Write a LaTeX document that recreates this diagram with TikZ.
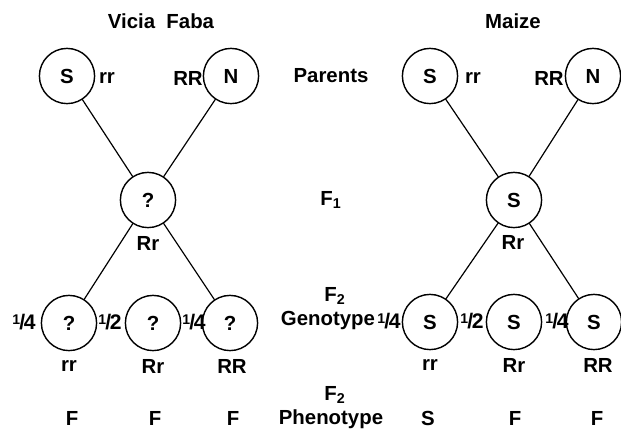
\documentclass[tikz,border=0pt]{standalone}
\usepackage{fontspec}
\setmainfont{Liberation Sans}

% fraction as printed: small raised 1, slash, full-size denominator
\newcommand{\gfrac}[1]{\raisebox{0.45ex}{\fontsize{10}{10}\selectfont 1}\kern-0.04em/\kern-0.06em#1}

\begin{document}
\begin{tikzpicture}[x=0.025cm,y=-0.025cm,line cap=round,
	plant/.style={draw,circle,line width=1pt,minimum size=1.38cm,inner sep=0pt,
		font=\fontsize{14.5}{16}\selectfont\bfseries},
	lbl/.style={font=\fontsize{14.5}{16}\selectfont\bfseries},
	frac/.style={font=\fontsize{15}{16}\selectfont\bfseries,inner sep=0pt},
	cross/.style={line width=0.85pt}]
	
	\useasboundingbox (0,0) rectangle (621,430);
	
	% ---- titles ----
	\node[lbl] (vftitle) at (161,21) {Vicia\ \ Faba};
	\node[lbl] (mztitle) at (513,21) {Maize};
	
	% ---- generation labels (middle column) ----
	\node[lbl] (parents) at (331,76) {Parents};
	\node[lbl] (fone) at (331,200) {F\textsubscript{1}};
	\node[lbl] (ftwog) at (335,296) {F\textsubscript{2}};
	\node[lbl] (genotype) at (328,320) {Genotype};
	\node[lbl] (ftwop) at (335,395) {F\textsubscript{2}};
	\node[lbl] (phenotype) at (331,419) {Phenotype};
	
	% ---- Vicia faba: parents ----
	\node[plant] (vS) at (67,76) {S};
	\node[lbl] (vSg) at (107,78) {rr};
	\node[plant] (vN) at (231,76) {N};
	\node[lbl] (vNg) at (188,78) {RR};
	
	% ---- Vicia faba: F1 ----
	\node[plant] (vF) at (148,200) {?};
	\node[lbl] (vFg) at (148,243) {Rr};
	
	% ---- Vicia faba: F2 ----
	\node[plant] (vrr) at (69,323) {?};
	\node[plant] (vRr) at (153,323) {?};
	\node[plant] (vRR) at (230,323) {?};
	\node[frac] (vrrf) at (24,322) {\gfrac{4}};
	\node[frac] (vRrf) at (110,322) {\gfrac{2}};
	\node[frac] (vRRf) at (194,322) {\gfrac{4}};
	\node[lbl] (vrrg) at (69,366) {rr};
	\node[lbl] (vRrg) at (153,366) {Rr};
	\node[lbl] (vRRg) at (232,366) {RR};
	\node[lbl] (vrrp) at (72,418) {F};
	\node[lbl] (vRrp) at (155,418) {F};
	\node[lbl] (vRRp) at (233,418) {F};
	
	\draw[cross] (vS) -- (vF);
	\draw[cross] (vN) -- (vF);
	\draw[cross] (vF) -- (vrr);
	\draw[cross] (vF) -- (vRR);
	
	% ---- Maize: parents ----
	\node[plant] (mS) at (430,76) {S};
	\node[lbl] (mSg) at (473,78) {rr};
	\node[plant] (mN) at (593,76) {N};
	\node[lbl] (mNg) at (549,78) {RR};
	
	% ---- Maize: F1 ----
	\node[plant] (mF) at (514,200) {S};
	\node[lbl] (mFg) at (513,242) {Rr};
	
	% ---- Maize: F2 ----
	\node[plant] (mrr) at (430,322) {S};
	\node[plant] (mRr) at (514,322) {S};
	\node[plant] (mRR) at (594,322) {S};
	\node[frac] (mrrf) at (389,321) {\gfrac{4}};
	\node[frac] (mRrf) at (472,321) {\gfrac{2}};
	\node[frac] (mRRf) at (557,321) {\gfrac{4}};
	\node[lbl] (mrrg) at (430,365) {rr};
	\node[lbl] (mRrg) at (514,365) {Rr};
	\node[lbl] (mRRg) at (598,365) {RR};
	\node[lbl] (mrrp) at (428,418) {S};
	\node[lbl] (mRrp) at (515,418) {F};
	\node[lbl] (mRRp) at (597,418) {F};
	
	\draw[cross] (mS) -- (mF);
	\draw[cross] (mN) -- (mF);
	\draw[cross] (mF) -- (mrr);
	\draw[cross] (mF) -- (mRR);
	
\end{tikzpicture}
\end{document}
